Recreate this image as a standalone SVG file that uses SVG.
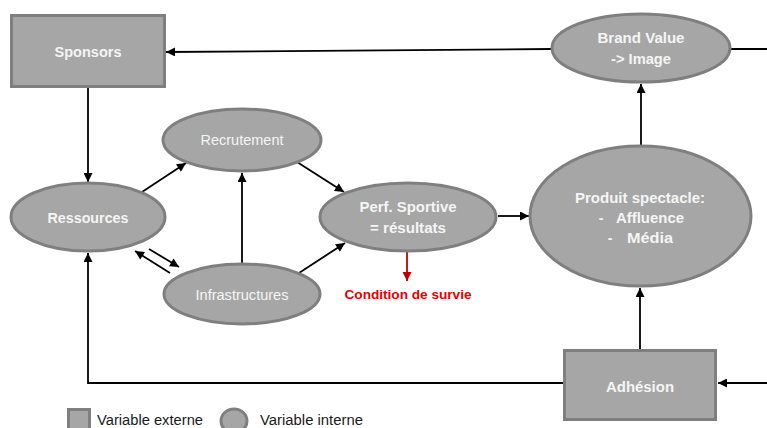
<svg xmlns="http://www.w3.org/2000/svg" width="767" height="428" viewBox="0 0 767 428">
  <defs>
    <marker id="arrow" viewBox="0 0 10 10" refX="10" refY="5" markerWidth="10" markerHeight="9" markerUnits="userSpaceOnUse" orient="auto">
      <path d="M0,0 L10,5 L0,10 z" fill="#000"/>
    </marker>
    <marker id="arrow-red" viewBox="0 0 10 10" refX="10" refY="5" markerWidth="10" markerHeight="9" markerUnits="userSpaceOnUse" orient="auto">
      <path d="M0,0 L10,5 L0,10 z" fill="#c00000"/>
    </marker>
    <style>
      .node { fill: #a6a6a6; stroke: #7f7f7f; stroke-width: 3; }
      .lbl { font-family: "Liberation Sans", Arial, sans-serif; font-size: 14px; fill: #f5f5f5; text-anchor: middle; }
      .b { font-weight: bold; }
      .conn { stroke: #000; stroke-width: 1.8; fill: none; }
      .arr { marker-end: url(#arrow); }
      .legend { font-family: "Liberation Sans", Arial, sans-serif; font-size: 14px; fill: #1a1a1a; }
    </style>
  </defs>
  <rect width="767" height="428" fill="#ffffff"/>

  <!-- connectors -->
  <g id="connectors">
    <line class="conn arr" x1="551" y1="49" x2="166" y2="52"/>
    <line class="conn" x1="731" y1="49" x2="767" y2="49"/>
    <line class="conn arr" x1="641" y1="145" x2="641" y2="84"/>
    <line class="conn arr" x1="498" y1="216" x2="529" y2="216"/>
    <line class="conn arr" x1="640" y1="349" x2="640" y2="288"/>
    <line class="conn arr" x1="767" y1="383" x2="718" y2="383"/>
    <polyline class="conn arr" points="563,383 88,383 88,253"/>
    <line class="conn arr" x1="88" y1="88" x2="88" y2="182"/>
    <line class="conn arr" x1="142" y1="192" x2="186" y2="163"/>
    <line class="conn arr" x1="297" y1="162" x2="344" y2="192"/>
    <line class="conn arr" x1="242" y1="263" x2="242" y2="173"/>
    <line class="conn arr" x1="299" y1="273" x2="345" y2="243"/>
    <line class="conn arr" x1="170" y1="273" x2="135" y2="251"/>
    <line class="conn arr" x1="149" y1="249" x2="179" y2="267"/>
    <line x1="407" y1="252" x2="407" y2="281" stroke="#c00000" stroke-width="1.8" marker-end="url(#arrow-red)"/>
  </g>

  <g id="sponsors">
    <rect class="node" x="11.5" y="15.5" width="153" height="71"/>
    <text class="lbl b" x="88" y="57" textLength="67" lengthAdjust="spacingAndGlyphs">Sponsors</text>
  </g>

  <g id="brand-value">
    <ellipse class="node" cx="641" cy="48" rx="89" ry="34"/>
    <text class="lbl b" x="641" y="43" textLength="87" lengthAdjust="spacingAndGlyphs">Brand Value</text>
    <text class="lbl b" x="641" y="64" textLength="60" lengthAdjust="spacingAndGlyphs">-&gt; Image</text>
  </g>

  <g id="ressources">
    <ellipse class="node" cx="88" cy="217" rx="77" ry="34"/>
    <text class="lbl b" x="88" y="223" textLength="81" lengthAdjust="spacingAndGlyphs">Ressources</text>
  </g>

  <g id="recrutement">
    <ellipse class="node" cx="242" cy="140" rx="79" ry="31"/>
    <text class="lbl" x="242" y="145" textLength="83" lengthAdjust="spacingAndGlyphs">Recrutement</text>
  </g>

  <g id="infrastructures">
    <ellipse class="node" cx="242" cy="294" rx="78" ry="30"/>
    <text class="lbl" x="242" y="300" textLength="93" lengthAdjust="spacingAndGlyphs">Infrastructures</text>
  </g>

  <g id="perf-sportive">
    <ellipse class="node" cx="408" cy="217" rx="88" ry="34"/>
    <text class="lbl b" x="408" y="212" textLength="97" lengthAdjust="spacingAndGlyphs">Perf. Sportive</text>
    <text class="lbl b" x="408" y="233" textLength="76" lengthAdjust="spacingAndGlyphs">= résultats</text>
  </g>

  <g id="condition-survie">
    <text x="408" y="299" text-anchor="middle" font-family="Liberation Sans, Arial, sans-serif" font-size="13" font-weight="bold" fill="#e60000" textLength="127" lengthAdjust="spacingAndGlyphs">Condition de survie</text>
  </g>

  <g id="produit-spectacle">
    <ellipse class="node" cx="640.5" cy="216" rx="110.5" ry="70"/>
    <text class="lbl b" x="640" y="203" textLength="130" lengthAdjust="spacingAndGlyphs">Produit spectacle:</text>
    <text class="lbl b" x="601" y="223">-</text>
    <text class="lbl b" x="650" y="223" textLength="68" lengthAdjust="spacingAndGlyphs">Affluence</text>
    <text class="lbl b" x="610" y="243">-</text>
    <text class="lbl b" x="650" y="243" textLength="46" lengthAdjust="spacingAndGlyphs">Média</text>
  </g>

  <g id="adhesion">
    <rect class="node" x="564.5" y="350.5" width="151" height="69"/>
    <text class="lbl b" x="640" y="392" textLength="68" lengthAdjust="spacingAndGlyphs">Adhésion</text>
  </g>

  <g id="legend">
    <rect class="node" x="68.5" y="409.5" width="21" height="22"/>
    <text class="legend" x="97" y="425" textLength="106" lengthAdjust="spacingAndGlyphs">Variable externe</text>
    <ellipse class="node" cx="234" cy="421" rx="13" ry="12"/>
    <text class="legend" x="260" y="425" textLength="103" lengthAdjust="spacingAndGlyphs">Variable interne</text>
  </g>
</svg>
